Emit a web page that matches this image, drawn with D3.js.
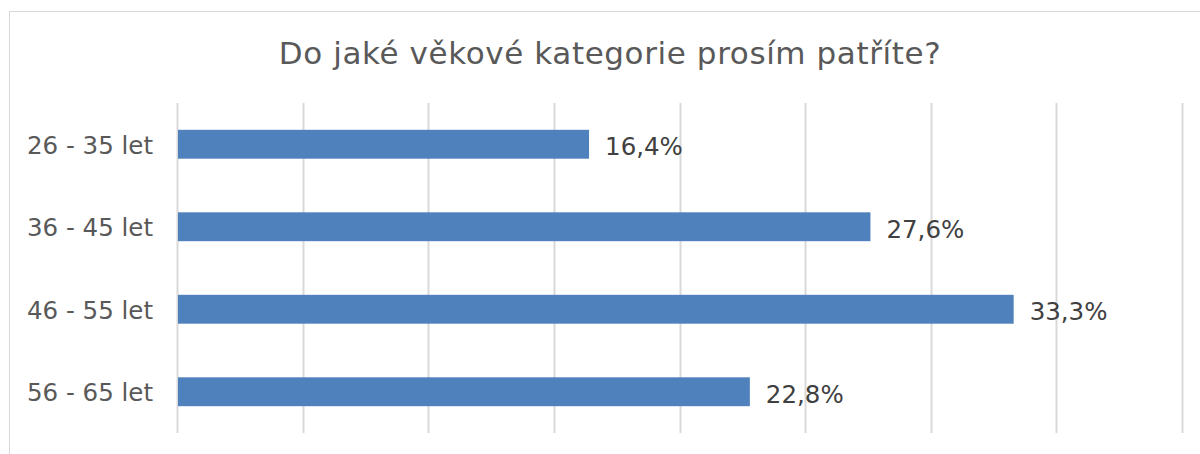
<!DOCTYPE html>
<html>
<head>
<meta charset="utf-8">
<script src="https://cdn.jsdelivr.net/npm/d3@7"></script>
<style>
  body { margin: 0; background: #fff; }
  svg { display: block; font-family: "DejaVu Sans", Verdana, sans-serif; }
</style>
</head>
<body>
<svg id="chart" width="1200" height="454"></svg>
<script>
// data
const categories = ["26 - 35 let", "36 - 45 let", "46 - 55 let", "56 - 65 let"];
const values = [16.4, 27.6, 33.3, 22.8];
const xTicks = [0, 5, 10, 15, 20, 25, 30, 35, 40];
const title = "Do jaké věkové kategorie prosím patříte?";

const svg = d3.select("#chart");
const margin = { top: 103, right: 18, bottom: 21, left: 177 };
const width = 1200, height = 454;

// frame
svg.append("rect")
  .attr("x", 9.5).attr("y", 11.5)
  .attr("width", 1200).attr("height", 460)
  .attr("fill", "#fff").attr("stroke", "#d9d9d9");

const x = d3.scaleLinear().domain([0, 40]).range([margin.left, width - margin.right]);
const y = d3.scaleBand().domain(categories)
  .range([margin.top, height - margin.bottom])
  .paddingInner(0.65).paddingOuter(0.325);

// gridlines
svg.append("g").selectAll("line").data(xTicks).join("line")
  .attr("x1", d => Math.round(x(d)) + 0.5).attr("x2", d => Math.round(x(d)) + 0.5)
  .attr("y1", margin.top).attr("y2", height - margin.bottom)
  .attr("stroke", "#d9d9d9").attr("stroke-width", 2);

// bars
svg.append("g").selectAll("rect").data(values).join("rect")
  .attr("x", x(0) + 1)
  .attr("y", (d, i) => y(categories[i]))
  .attr("width", d => x(d) - x(0) - 1)
  .attr("height", y.bandwidth())
  .attr("fill", "#4f81bd");

// value labels
svg.append("g").selectAll("text").data(values).join("text")
  .attr("x", d => x(d) + 16)
  .attr("y", (d, i) => y(categories[i]) + y.bandwidth() / 2)
  .attr("dy", "0.44em")
  .attr("fill", "#404040")
  .attr("font-size", 24.5)
  .text(d => d.toFixed(1).replace(".", ",") + "%");

// category labels
svg.append("g").selectAll("text").data(categories).join("text")
  .attr("x", margin.left - 24)
  .attr("y", d => y(d) + y.bandwidth() / 2)
  .attr("dy", "0.38em")
  .attr("text-anchor", "end")
  .attr("fill", "#595959")
  .attr("font-size", 24.5)
  .text(d => d);

// title
svg.append("text")
  .attr("x", 610).attr("y", 64)
  .attr("text-anchor", "middle")
  .attr("fill", "#595959")
  .attr("font-size", 31)
  .attr("letter-spacing", 0.6)
  .text(title);
</script>
</body>
</html>
